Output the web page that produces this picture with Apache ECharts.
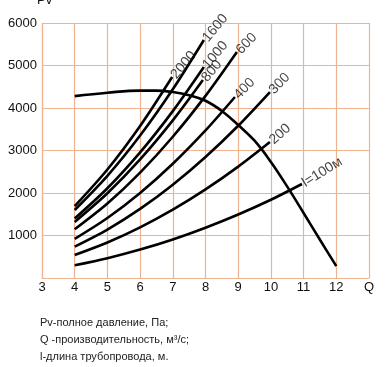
<!DOCTYPE html>
<html>
<head>
<meta charset="utf-8">
<script src="https://cdn.jsdelivr.net/npm/echarts@6/dist/echarts.min.js"></script>
<style>
html,body{margin:0;padding:0;background:#fff;}
#chart{width:392px;height:367px;}
</style>
</head>
<body>
<div id="chart"></div>
<script>
// Fan curve (total pressure vs capacity)
const fanQ = [4, 5, 6, 6.5, 7, 7.5, 8, 8.5, 9, 9.5, 10, 10.5, 11, 11.5, 12];
const fanP = [4280, 4360, 4410, 4410, 4375, 4300, 4170, 3930, 3600, 3230, 2730, 2150, 1530, 900, 280];

// System curves for pipeline lengths
const q100 = [4, 5, 6, 7, 8, 9, 10, 10.95];
const p100 = [300, 467, 670, 908, 1184, 1494, 1841, 2212];
const q200 = [4, 5, 6, 7, 8, 9, 9.97];
const p200 = [541, 835, 1191, 1607, 2084, 2621, 3200];
const q300 = [4, 5, 6, 7, 8, 9, 9.97];
const p300 = [737, 1139, 1625, 2195, 2848, 3583, 4376];
const q400 = [4, 5, 6, 7, 8, 8.9];
const p400 = [920, 1411, 2001, 2688, 3472, 4259];
const q600 = [4, 5, 6, 7, 8, 8.96];
const p600 = [1145, 1751, 2478, 3323, 4285, 5318];
const q800 = [4, 5, 6, 7, 7.92];
const p800 = [1320, 1993, 2790, 3709, 4659];
const q1000 = [4, 5, 6, 7, 7.95];
const p1000 = [1400, 2112, 2956, 3927, 4965];
const q1600 = [4, 5, 6, 7, 7.95];
const p1600 = [1600, 2404, 3352, 4440, 5600];
const q2000 = [4, 5, 6, 6.98];
const p2000 = [1690, 2552, 3576, 4729];

const curveLabels = ['l=100м', '200', '300', '400', '600', '800', '1000', '1600', '2000'];
const curveQ = [q100, q200, q300, q400, q600, q800, q1000, q1600, q2000];
const curveP = [p100, p200, p300, p400, p600, p800, p1000, p1600, p2000];
const labelAngles = [32, 42, 46, 46, 46, 50, 50, 50, 50];

const xTicks = ['3', '4', '5', '6', '7', '8', '9', '10', '11', '12', 'Q'];
const yTicks = ['', '1000', '2000', '3000', '4000', '5000', '6000'];

const footer = ['Pv-полное давление, Па;', 'Q -производительность, м³/с;', 'l-длина трубопровода, м.'];

const FONT = '"Liberation Sans", Arial, sans-serif';
const GRIDC = '#eeb390';

function pairs(qs, ps) { return qs.map((q, i) => [q, ps[i]]); }

const series = [];
series.push({
  type: 'line', data: pairs(fanQ, fanP), smooth: 0.4, symbol: 'none',
  lineStyle: { color: '#000', width: 2.6 }, silent: true, z: 3
});
curveLabels.forEach((name, i) => {
  series.push({
    type: 'line', data: pairs(curveQ[i], curveP[i]), smooth: 0.3, symbol: 'none',
    lineStyle: { color: '#000', width: 2.6 }, silent: true, z: 3
  });
});
// end labels placed at each curve's last value
series.push({
  type: 'scatter', symbol: 'circle', symbolSize: 1, silent: true, z: 4,
  itemStyle: { color: 'rgba(0,0,0,0)' },
  labelLayout: { hideOverlap: false },
  data: curveLabels.map((name, i) => {
    const qs = curveQ[i], ps = curveP[i];
    return {
      value: [qs[qs.length - 1], ps[ps.length - 1]],
      label: {
        show: true, formatter: name, rotate: labelAngles[i],
        position: 'right', distance: 1, offset: [0, -3],
        color: '#111', fontSize: 14, fontFamily: FONT
      }
    };
  })
});

const chart = echarts.init(document.getElementById('chart'), null, { renderer: 'canvas' });
chart.setOption({
  animation: false,
  backgroundColor: '#fff',
  grid: { left: 42, right: 23, top: 23, bottom: 89, containLabel: false },
  xAxis: {
    type: 'value', min: 3, max: 13, interval: 1,
    axisLine: { show: true, lineStyle: { color: GRIDC, width: 1.2 } },
    axisTick: { show: false },
    splitLine: { show: true, lineStyle: { color: GRIDC, width: 1.2 } },
    axisLabel: {
      color: '#111', fontSize: 13, fontFamily: FONT, margin: 3,
      formatter: v => xTicks[Math.round(v) - 3]
    }
  },
  yAxis: {
    type: 'value', min: 0, max: 6000, interval: 1000,
    axisLine: { show: true, lineStyle: { color: GRIDC, width: 1.2 } },
    axisTick: { show: false },
    splitLine: { show: true, lineStyle: { color: GRIDC, width: 1.2 } },
    axisLabel: {
      color: '#111', fontSize: 13, fontFamily: FONT, margin: 5,
      formatter: v => yTicks[Math.round(v / 1000)]
    }
  },
  graphic: [
    { type: 'text', left: 37, top: -6, style: { text: 'Pv', fontSize: 13, fontFamily: FONT, fill: '#111' } },
    { type: 'text', left: 40, top: 317, style: { text: footer[0], fontSize: 11, fontFamily: FONT, fill: '#222' } },
    { type: 'text', left: 40, top: 334, style: { text: footer[1], fontSize: 11, fontFamily: FONT, fill: '#222' } },
    { type: 'text', left: 40, top: 351, style: { text: footer[2], fontSize: 11, fontFamily: FONT, fill: '#222' } }
  ],
  series: series
});
</script>
</body>
</html>
